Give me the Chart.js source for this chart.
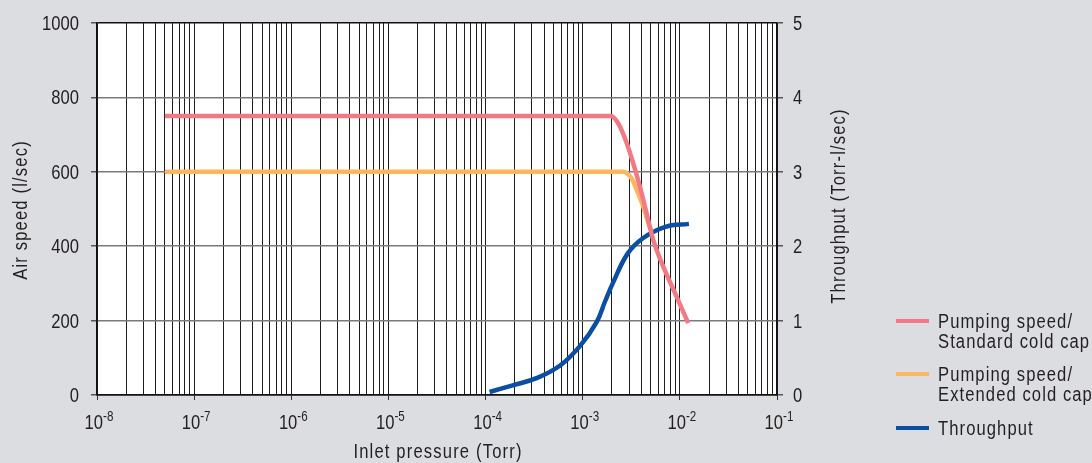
<!DOCTYPE html>
<html>
<head>
<meta charset="utf-8">
<script src="https://cdn.jsdelivr.net/npm/chart.js@4/dist/chart.umd.min.js"></script>
<style>
  html, body { margin: 0; padding: 0; background: #dcdde0; }
  #wrap { width: 1092px; height: 463px; }
</style>
</head>
<body>
<div id="wrap"><canvas id="chart" width="1092" height="463"></canvas></div>
<script>
// Data
const decadeExps = [-8, -7, -6, -5, -4, -3, -2, -1];
const speedTicks = [0, 200, 400, 600, 800, 1000];
const throughputTicks = [0, 1, 2, 3, 4, 5];

const stdPressure = [5e-8, 1.95e-3, 2.32e-3, 2.84e-3, 3.31e-3, 3.88e-3, 4.55e-3, 5.32e-3, 6.75e-3, 9.27e-3, 1.22e-2];
const stdSpeed    = [750,  750,     730,     677,     623,     560,     488,     417,     345,     264,     193];

const extPressure = [5e-8, 2.6e-3, 3.19e-3, 3.6e-3, 4.2e-3, 4.73e-3, 5.1e-3];
const extSpeed    = [600,  600,    582,     551,    506,    462,     440];

const tpPressure = [1.1e-4, 1.9e-4, 3.4e-4, 5.9e-4, 9.4e-4, 1.39e-3, 1.7e-3, 2.07e-3, 2.9e-3, 4.2e-3, 7.1e-3, 1.24e-2];
const tpValue    = [0.04,   0.13,   0.23,   0.40,   0.66,   0.98,    1.26,   1.52,    1.90,   2.11,   2.26,   2.30];

const legendItems = [
  { lines: ['Pumping speed/', 'Standard cold cap'], color: '#f27a85' },
  { lines: ['Pumping speed/', 'Extended cold cap'], color: '#fdb760' },
  { lines: ['Throughput'], color: '#0b4ea2' }
];

const FONT = '"Liberation Sans", Arial, sans-serif';
const TEXT = '#231f20';
const SQUEEZE = 0.83; // condensed look

function pts(xs, ys) {
  return xs.map((x, i) => ({ x: x, y: ys[i] }));
}

function isDecade(v) {
  const l = Math.log10(v);
  return Math.abs(l - Math.round(l)) < 1e-6;
}

// draw condensed text
function txt(ctx, s, x, y, size, align, spacing, rot) {
  ctx.save();
  ctx.translate(x, y);
  if (rot) ctx.rotate(rot);
  ctx.scale(SQUEEZE, 1);
  ctx.font = size + 'px ' + FONT;
  ctx.letterSpacing = (spacing || 0) + 'px';
  ctx.textAlign = align || 'left';
  ctx.textBaseline = 'alphabetic';
  ctx.fillStyle = TEXT;
  ctx.fillText(s, 0, 0);
  ctx.restore();
}

function measure(ctx, s, size) {
  ctx.save();
  ctx.font = size + 'px ' + FONT;
  ctx.letterSpacing = '0px';
  const w = ctx.measureText(s).width * SQUEEZE;
  ctx.restore();
  return w;
}

// Extra drawing: tick labels, axis titles, legend
const decorations = {
  id: 'decorations',
  afterDraw(chart) {
    const ctx = chart.ctx;
    const xs = chart.scales.x;
    const yl = chart.scales.y;
    const yr = chart.scales.y1;

    // x tick labels 10^n
    decadeExps.forEach(e => {
      const px = xs.getPixelForValue(Math.pow(10, e));
      const sup = '-' + Math.abs(e);
      const wBase = measure(ctx, '10', 20);
      const wSup = measure(ctx, sup, 14);
      const left = px + 2 - (wBase + wSup) / 2;
      txt(ctx, '10', left, 429, 20);
      txt(ctx, sup, left + wBase, 421, 14);
    });

    // y tick labels
    speedTicks.forEach(v => {
      txt(ctx, String(v), 79, yl.getPixelForValue(v) + 7, 20, 'right');
    });
    throughputTicks.forEach(v => {
      txt(ctx, String(v), 793, yr.getPixelForValue(v) + 7, 20, 'left');
    });

    // axis titles
    txt(ctx, 'Inlet pressure (Torr)', (xs.left + xs.right) / 2 + 1, 458, 20, 'center', 1.4);
    txt(ctx, 'Air speed (l/sec)', 27, 210, 20, 'center', 1.4, -Math.PI / 2);
    txt(ctx, 'Throughput (Torr-l/sec)', 845, 206, 20, 'center', 1.4, -Math.PI / 2);

    // legend
    const rows = [321, 374, 428];
    legendItems.forEach((item, i) => {
      const y = rows[i];
      ctx.save();
      ctx.fillStyle = item.color;
      ctx.fillRect(896, y - 2, 33, 4);
      ctx.restore();
      item.lines.forEach((t, j) => {
        txt(ctx, t, 938, y + 7 + j * 20, 20, 'left', 1.3);
      });
    });
  }
};

// grey page, white plot area behind the grid
const plotBg = {
  id: 'plotBg',
  beforeDraw(chart) {
    const a = chart.chartArea;
    const ctx = chart.ctx;
    ctx.save();
    ctx.fillStyle = '#dcdde0';
    ctx.fillRect(0, 0, chart.width, chart.height);
    ctx.fillStyle = '#ffffff';
    ctx.fillRect(a.left, a.top, a.right - a.left, a.bottom - a.top);
    ctx.restore();
  }
};

new Chart(document.getElementById('chart'), {
  type: 'line',
  data: {
    datasets: [
      {
        label: 'Pumping speed/Standard cold cap',
        data: pts(stdPressure, stdSpeed),
        borderColor: legendItems[0].color,
        borderWidth: 4.5,
        pointRadius: 0,
        cubicInterpolationMode: 'monotone',
        yAxisID: 'y',
        order: 1
      },
      {
        label: 'Pumping speed/Extended cold cap',
        data: pts(extPressure, extSpeed),
        borderColor: legendItems[1].color,
        borderWidth: 4.5,
        pointRadius: 0,
        cubicInterpolationMode: 'monotone',
        yAxisID: 'y',
        order: 2
      },
      {
        label: 'Throughput',
        data: pts(tpPressure, tpValue),
        borderColor: legendItems[2].color,
        borderWidth: 4.5,
        pointRadius: 0,
        tension: 0.4,
        yAxisID: 'y1',
        order: 3
      }
    ]
  },
  options: {
    responsive: false,
    animation: false,
    devicePixelRatio: 1,
    layout: { padding: { left: 0, top: 23, right: 242, bottom: 0 } },
    plugins: {
      legend: { display: false },
      tooltip: { enabled: false }
    },
    scales: {
      x: {
        type: 'logarithmic',
        position: 'bottom',
        min: 1e-8,
        max: 1e-1,
        afterBuildTicks(scale) {
          const ticks = [];
          decadeExps.forEach(e => {
            for (let m = 1; m <= 9; m++) {
              if (e === -1 && m > 1) break;
              ticks.push({ value: m * Math.pow(10, e) });
            }
          });
          scale.ticks = ticks;
        },
        afterFit(scale) { scale.height = 68; },
        ticks: { display: false },
        grid: {
          color: '#1e1e1e',
          lineWidth: 1,
          tickLength: 5,
          tickColor: ctx => (ctx.tick && isDecade(ctx.tick.value)) ? '#333' : 'rgba(0,0,0,0)'
        },
        border: { color: '#111', width: 1.5 }
      },
      y: {
        position: 'left',
        min: 0,
        max: 1000,
        afterFit(scale) { scale.width = 97; },
        afterBuildTicks(scale) { scale.ticks = speedTicks.map(v => ({ value: v })); },
        ticks: { display: false },
        grid: {
          color: ctx => (ctx.tick && (ctx.tick.value === 0 || ctx.tick.value === 1000)) ? '#111' : '#7a7a7a',
          lineWidth: 1.5,
          tickLength: 6,
          tickColor: '#555'
        },
        border: { color: '#111', width: 1.5 }
      },
      y1: {
        position: 'right',
        min: 0,
        max: 5,
        afterFit(scale) { scale.width = 73; },
        afterBuildTicks(scale) { scale.ticks = throughputTicks.map(v => ({ value: v })); },
        ticks: { display: false },
        grid: {
          drawOnChartArea: false,
          tickLength: 6,
          tickColor: '#555',
          lineWidth: 1.5
        },
        border: { color: '#111', width: 1.5 }
      }
    }
  },
  plugins: [plotBg, decorations]
});
</script>
</body>
</html>
